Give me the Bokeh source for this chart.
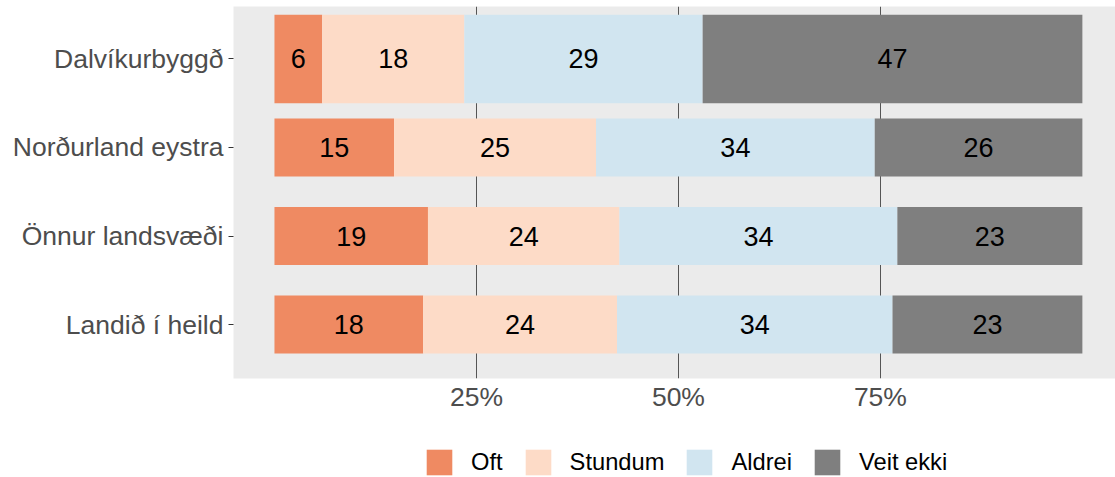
from bokeh.plotting import figure
from bokeh.layouts import column
from bokeh.models import Range1d, FixedTicker, ColumnDataSource, Legend, LegendItem
from bokeh.core.properties import value
from bokeh.embed import file_html
from bokeh.resources import INLINE

# ---- data ----
categories = ["Dalvíkurbyggð", "Norðurland eystra", "Önnur landsvæði", "Landið í heild"]
series = ["Oft", "Stundum", "Aldrei", "Veit ekki"]
# bar lengths (percent share)
oft = [5.9, 14.8, 19.0, 18.4]
stundum = [17.6, 25.0, 23.7, 24.0]
aldrei = [29.5, 34.5, 34.4, 34.1]
veit_ekki = [47.0, 25.7, 22.9, 23.5]
# printed labels
oft_lbl = [6, 15, 19, 18]
stundum_lbl = [18, 25, 24, 24]
aldrei_lbl = [29, 34, 34, 34]
veit_ekki_lbl = [47, 26, 23, 23]
x_ticks = [25, 50, 75]
x_tick_labels = ["25%", "50%", "75%"]

colors = ["#EF8A62", "#FDDBC7", "#D1E5F0", "#7F7F7F"]
FONT = "Liberation Sans"

values = [oft, stundum, aldrei, veit_ekki]
labels = [oft_lbl, stundum_lbl, aldrei_lbl, veit_ekki_lbl]
n = len(categories)
ypos = [n - i for i in range(n)]
heights = [1.0 if i == 0 else 0.655 for i in range(n)]

p = figure(
    width=1115, height=420,
    x_range=Range1d(-5.07, 104.1), y_range=Range1d(0.39, 4.593),
    output_backend="svg", toolbar_location=None,
    min_border_left=233, min_border_right=0, min_border_top=6, min_border_bottom=42,
)
p.background_fill_color = "#EBEBEB"
p.border_fill_color = "white"
p.outline_line_color = None

left = [0.0] * n
for s, vals, lbls, c in zip(series, values, labels, colors):
    right = [l + v for l, v in zip(left, vals)]
    src = ColumnDataSource(dict(
        y=ypos, left=left, right=right, h=heights,
        xm=[(l + r) / 2 for l, r in zip(left, right)],
        txt=[str(v) for v in lbls],
    ))
    p.hbar(y="y", left="left", right="right", height="h", source=src,
           fill_color=c, line_color=None)
    p.text(x="xm", y="y", text="txt", source=src, text_align="center",
           text_baseline="middle", text_font=value(FONT), text_font_size="27px",
           text_color="black")
    left = right

# grid
p.ygrid.grid_line_color = None
p.xgrid.ticker = FixedTicker(ticks=x_ticks)
p.xgrid.grid_line_color = "#555555"
p.xgrid.grid_line_width = 1

# x axis
p.xaxis.ticker = FixedTicker(ticks=x_ticks)
p.xaxis.major_label_overrides = {t: l for t, l in zip(x_ticks, x_tick_labels)}
p.xaxis.axis_line_color = None
p.xaxis.major_tick_line_color = None
p.xaxis.minor_tick_line_color = None
p.xaxis.major_label_text_font = FONT
p.xaxis.major_label_text_font_size = "26.5px"
p.xaxis.major_label_text_color = "#4D4D4D"
p.xaxis.major_label_standoff = -3

# y axis
p.yaxis.ticker = FixedTicker(ticks=ypos)
p.yaxis.major_label_overrides = {y: c for y, c in zip(ypos, categories)}
p.yaxis.axis_line_color = None
p.yaxis.minor_tick_line_color = None
p.yaxis.major_tick_line_color = "#333333"
p.yaxis.major_tick_out = 5
p.yaxis.major_tick_in = 0
p.yaxis.major_label_text_font = FONT
p.yaxis.major_label_text_font_size = "26.5px"
p.yaxis.major_label_text_color = "#4D4D4D"
p.yaxis.major_label_standoff = 5

# ---- legend strip ----
pl = figure(
    width=1115, height=57, x_range=Range1d(0, 1), y_range=Range1d(0, 1),
    output_backend="svg", toolbar_location=None,
    x_axis_location=None, y_axis_location=None,
    min_border_left=0, min_border_right=0, min_border_top=0, min_border_bottom=0,
)
pl.grid.visible = False
pl.outline_line_color = None
pl.background_fill_color = "white"
pl.border_fill_color = "white"
items = []
for s, c in zip(series, colors):
    # legend key only: a swatch placed outside the visible range
    r = pl.hbar(y=[-10], left=[0], right=[1], height=0.5, fill_color=c, line_color=None)
    items.append(LegendItem(label=s, renderers=[r]))
legend = Legend(
    items=items, orientation="horizontal", location=(190, -1),
    glyph_width=32, glyph_height=32, label_standoff=16, spacing=19,
    padding=0, margin=0, border_line_color=None, background_fill_alpha=0,
    label_text_font=FONT, label_text_font_size="23.7px", label_text_color="black",
)
pl.add_layout(legend, "center")

layout = column(p, pl, spacing=0)
open("out.html", "w").write(file_html(layout, INLINE))
